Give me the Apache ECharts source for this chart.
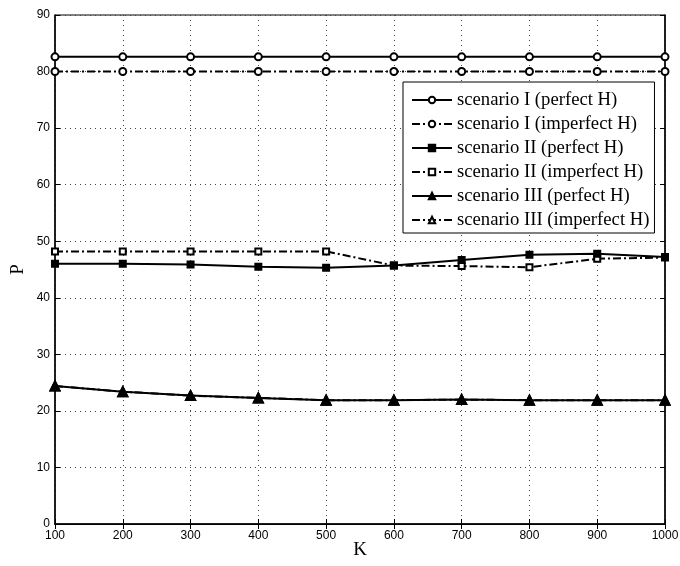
<!DOCTYPE html>
<html><head><meta charset="utf-8">
<script src="https://cdn.jsdelivr.net/npm/echarts@6/dist/echarts.min.js"></script>
<style>html,body{margin:0;padding:0;background:#fff}#c{width:680px;height:566px}</style>
</head><body><div id="c"></div>
<script>
const K = [100, 200, 300, 400, 500, 600, 700, 800, 900, 1000];
const s1Perfect   = [82.6, 82.6, 82.6, 82.6, 82.6, 82.6, 82.6, 82.6, 82.6, 82.6];
const s1Imperfect = [80.0, 80.0, 80.0, 80.0, 80.0, 80.0, 80.0, 80.0, 80.0, 80.0];
const s2Perfect   = [46.0, 46.0, 45.9, 45.5, 45.3, 45.7, 46.7, 47.6, 47.8, 47.2];
const s2Imperfect = [48.2, 48.2, 48.2, 48.2, 48.2, 45.7, 45.6, 45.4, 46.9, 47.1];
const s3Perfect   = [24.4, 23.4, 22.7, 22.3, 21.9, 21.9, 22.0, 21.9, 21.9, 21.9];
const s3Imperfect = [24.4, 23.4, 22.7, 22.3, 21.9, 21.9, 22.0, 21.9, 21.9, 21.9];
const names = ['scenario I (perfect H)','scenario I (imperfect H)','scenario II (perfect H)','scenario II (imperfect H)','scenario III (perfect H)','scenario III (imperfect H)'];
const xTicks = ['100','200','300','400','500','600','700','800','900','1000'];

const pair = arr => K.map((k,i)=>[k,arr[i]]);
const dashDot = [8,3,2,3];
function mk(name, data, symbol, size, filled, dashed){
  return {
    name, type:'line', data: pair(data), symbol, symbolSize:size,
    showSymbol:true, animation:false,
    lineStyle:{color:'#000', width:2, type: dashed ? dashDot : 'solid'},
    itemStyle:{color: filled ? '#000' : '#fff', borderColor:'#000', borderWidth:2},
    z: dashed ? 2 : 3
  };
}
const series = [
  mk(names[0], s1Perfect, 'circle', 7, false, false),
  mk(names[1], s1Imperfect, 'circle', 7, false, true),
  mk(names[2], s2Perfect, 'rect', 6, true, false),
  mk(names[3], s2Imperfect, 'rect', 6, false, true),
  mk(names[4], s3Perfect, 'triangle', 9, true, false),
  mk(names[5], s3Imperfect, 'triangle', 9, false, true)
];
const tickLabel = {color:'#000', fontFamily:'Liberation Sans', fontSize:12};
const chart = echarts.init(document.getElementById('c'), null, {renderer:'canvas'});
chart.setOption({
  backgroundColor:'#fff',
  animation:false,
  grid:{left:55, right:15, top:15, bottom:42, show:true, borderColor:'#000', borderWidth:1,
        backgroundColor:'transparent', containLabel:false, outerBoundsMode:'none'},
  legend:{
    orient:'vertical', left:403, top:82,
    backgroundColor:'#fff', borderColor:'#000', borderWidth:1,
    padding:[8,5,3,8], itemGap:4, itemWidth:40, itemHeight:8,
    textStyle:{fontFamily:'Liberation Serif', fontSize:18.7, lineHeight:20, color:'#000'},
    data: names
  },
  xAxis:[{
    type:'value', min:100, max:1000, interval:100,
    name:'K', nameLocation:'middle', nameGap:17, nameMoveOverlap:false,
    nameTextStyle:{fontFamily:'Liberation Serif', fontSize:19, color:'#000'},
    axisLine:{show:true, onZero:false, lineStyle:{color:'#000', width:1.5}},
    axisTick:{inside:true, length:5, lineStyle:{color:'#000'}},
    axisLabel:Object.assign({margin:6, formatter:(v)=>xTicks[K.indexOf(v)] ?? v}, tickLabel),
    splitLine:{show:true, lineStyle:{color:'#444', type:[1,4], width:1}}
  },{
    type:'value', position:'top', min:100, max:1000, interval:100,
    axisLine:{show:true, lineStyle:{color:'#000', width:1}},
    axisTick:{inside:true, length:5, lineStyle:{color:'#000'}},
    axisLabel:{show:false}, splitLine:{show:false}
  }],
  yAxis:[{
    type:'value', min:0, max:90, interval:10,
    name:'P', nameLocation:'middle', nameGap:27, nameRotate:90, nameMoveOverlap:false,
    nameTextStyle:{fontFamily:'Liberation Serif', fontSize:19, color:'#000'},
    axisLine:{show:true, onZero:false, lineStyle:{color:'#000', width:1.5}},
    axisTick:{show:true, inside:true, length:5, lineStyle:{color:'#000'}},
    axisLabel:Object.assign({margin:5}, tickLabel),
    splitLine:{show:true, lineStyle:{color:'#444', type:[1,4], width:1}}
  },{
    type:'value', position:'right', min:0, max:90, interval:10,
    axisLine:{show:true, lineStyle:{color:'#000', width:1.5}},
    axisTick:{show:true, inside:true, length:5, lineStyle:{color:'#000'}},
    axisLabel:{show:false}, splitLine:{show:false}
  }],
  series
});
</script></body></html>
